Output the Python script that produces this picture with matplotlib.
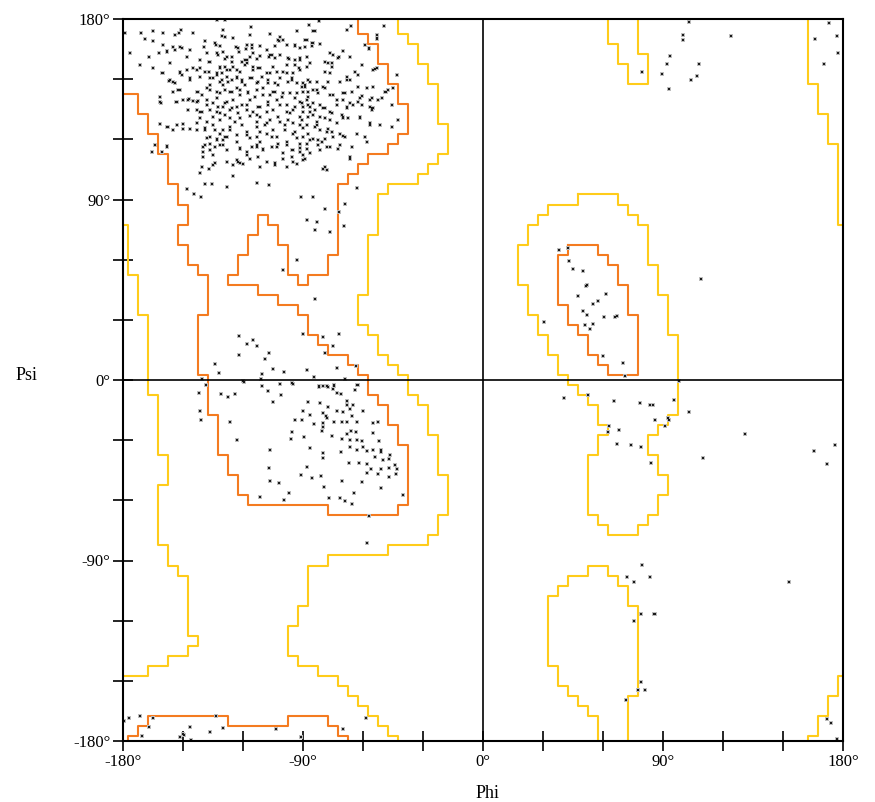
import numpy as np
import matplotlib.pyplot as plt

# contour outlines (phi, psi) in degrees
orange_main = [
    (-180, 142.5), (-172.5, 142.5), (-172.5, 132.5), (-167.5, 132.5), (-167.5, 122.5),
    (-162.5, 122.5), (-162.5, 112.5), (-157.5, 112.5), (-157.5, 97.5), (-152.5, 97.5),
    (-152.5, 87.5), (-147.5, 87.5), (-147.5, 77.5), (-152.5, 77.5), (-152.5, 67.5),
    (-147.5, 67.5), (-147.5, 57.5), (-142.5, 57.5), (-142.5, 52.5), (-137.5, 52.5),
    (-137.5, 32.5), (-142.5, 32.5), (-142.5, 2.5), (-137.5, 2.5), (-137.5, -17.5),
    (-132.5, -17.5), (-132.5, -37.5), (-127.5, -37.5), (-127.5, -47.5), (-122.5, -47.5),
    (-122.5, -57.5), (-117.5, -57.5), (-117.5, -62.5), (-77.5, -62.5), (-77.5, -67.5),
    (-42.5, -67.5), (-42.5, -62.5), (-37.5, -62.5), (-37.5, -32.5), (-42.5, -32.5),
    (-42.5, -22.5), (-47.5, -22.5), (-47.5, -12.5), (-52.5, -12.5), (-52.5, -7.5),
    (-57.5, -7.5), (-57.5, 2.5), (-62.5, 2.5), (-62.5, 7.5), (-67.5, 7.5), (-67.5, 12.5),
    (-77.5, 12.5), (-77.5, 17.5), (-82.5, 17.5), (-82.5, 22.5), (-87.5, 22.5),
    (-87.5, 32.5), (-92.5, 32.5), (-92.5, 37.5), (-102.5, 37.5), (-102.5, 42.5),
    (-112.5, 42.5), (-112.5, 47.5), (-127.5, 47.5), (-127.5, 52.5), (-122.5, 52.5),
    (-122.5, 62.5), (-117.5, 62.5), (-117.5, 72.5), (-112.5, 72.5), (-112.5, 82.5),
    (-107.5, 82.5), (-107.5, 77.5), (-102.5, 77.5), (-102.5, 67.5), (-97.5, 67.5),
    (-97.5, 52.5), (-92.5, 52.5), (-92.5, 47.5), (-87.5, 47.5), (-87.5, 52.5),
    (-77.5, 52.5), (-77.5, 62.5), (-72.5, 62.5), (-72.5, 97.5), (-67.5, 97.5),
    (-67.5, 102.5), (-62.5, 102.5), (-62.5, 107.5), (-57.5, 107.5), (-57.5, 112.5),
    (-47.5, 112.5), (-47.5, 117.5), (-42.5, 117.5), (-42.5, 122.5), (-37.5, 122.5),
    (-37.5, 137.5), (-42.5, 137.5), (-42.5, 147.5), (-47.5, 147.5), (-47.5, 157.5),
    (-52.5, 157.5), (-52.5, 167.5), (-57.5, 167.5), (-57.5, 172.5), (-62.5, 172.5),
    (-62.5, 180)]
orange_bottom = [
    (-177.5, -180), (-177.5, -177.5), (-172.5, -177.5), (-172.5, -172.5), (-167.5, -172.5),
    (-167.5, -167.5), (-127.5, -167.5), (-127.5, -172.5), (-97.5, -172.5), (-97.5, -167.5),
    (-77.5, -167.5), (-77.5, -172.5), (-72.5, -172.5), (-72.5, -177.5), (-67.5, -177.5),
    (-67.5, -180)]
orange_left_handed = [
    (42.5, 67.5), (57.5, 67.5), (57.5, 62.5), (62.5, 62.5), (62.5, 57.5), (67.5, 57.5),
    (67.5, 47.5), (72.5, 47.5), (72.5, 32.5), (77.5, 32.5), (77.5, 2.5), (62.5, 2.5),
    (62.5, 7.5), (57.5, 7.5), (57.5, 12.5), (52.5, 12.5), (52.5, 22.5), (47.5, 22.5),
    (47.5, 27.5), (42.5, 27.5), (42.5, 37.5), (37.5, 37.5), (37.5, 62.5), (42.5, 62.5),
    (42.5, 67.5)]

yellow_left = [
    (-180, 77.5), (-177.5, 77.5), (-177.5, 52.5), (-172.5, 52.5), (-172.5, 32.5),
    (-167.5, 32.5), (-167.5, -7.5), (-162.5, -7.5), (-162.5, -37.5), (-157.5, -37.5),
    (-157.5, -52.5), (-162.5, -52.5), (-162.5, -82.5), (-157.5, -82.5), (-157.5, -92.5),
    (-152.5, -92.5), (-152.5, -97.5), (-147.5, -97.5), (-147.5, -127.5), (-142.5, -127.5),
    (-142.5, -132.5), (-147.5, -132.5), (-147.5, -137.5), (-157.5, -137.5),
    (-157.5, -142.5), (-167.5, -142.5), (-167.5, -147.5), (-180, -147.5)]
yellow_right = [
    (-42.5, 180), (-42.5, 172.5), (-37.5, 172.5), (-37.5, 167.5), (-32.5, 167.5),
    (-32.5, 157.5), (-27.5, 157.5), (-27.5, 147.5), (-22.5, 147.5), (-22.5, 127.5),
    (-17.5, 127.5), (-17.5, 112.5), (-22.5, 112.5), (-22.5, 107.5), (-27.5, 107.5),
    (-27.5, 102.5), (-32.5, 102.5), (-32.5, 97.5), (-47.5, 97.5), (-47.5, 92.5),
    (-52.5, 92.5), (-52.5, 72.5), (-57.5, 72.5), (-57.5, 42.5), (-62.5, 42.5),
    (-62.5, 27.5), (-57.5, 27.5), (-57.5, 22.5), (-52.5, 22.5), (-52.5, 12.5),
    (-47.5, 12.5), (-47.5, 7.5), (-42.5, 7.5), (-42.5, 2.5), (-37.5, 2.5), (-37.5, -7.5),
    (-32.5, -7.5), (-32.5, -12.5), (-27.5, -12.5), (-27.5, -27.5), (-22.5, -27.5),
    (-22.5, -47.5), (-17.5, -47.5), (-17.5, -67.5), (-22.5, -67.5), (-22.5, -77.5),
    (-27.5, -77.5), (-27.5, -82.5), (-47.5, -82.5), (-47.5, -87.5), (-77.5, -87.5),
    (-77.5, -92.5), (-87.5, -92.5), (-87.5, -112.5), (-92.5, -112.5), (-92.5, -122.5),
    (-97.5, -122.5), (-97.5, -137.5), (-92.5, -137.5), (-92.5, -142.5), (-82.5, -142.5),
    (-82.5, -147.5), (-72.5, -147.5), (-72.5, -152.5), (-67.5, -152.5), (-67.5, -157.5),
    (-62.5, -157.5), (-62.5, -162.5), (-57.5, -162.5), (-57.5, -167.5), (-52.5, -167.5),
    (-52.5, -172.5), (-47.5, -172.5), (-47.5, -177.5), (-42.5, -177.5), (-42.5, -180)]
yellow_top_right = [
    (162.5, 180), (162.5, 147.5), (167.5, 147.5), (167.5, 132.5), (172.5, 132.5),
    (172.5, 117.5), (177.5, 117.5), (177.5, 77.5), (180, 77.5)]
yellow_bottom_right = [
    (162.5, -180), (162.5, -177.5), (167.5, -177.5), (167.5, -167.5), (172.5, -167.5),
    (172.5, -157.5), (177.5, -157.5), (177.5, -147.5), (180, -147.5)]
yellow_top_mid = [
    (62.5, 180), (62.5, 167.5), (67.5, 167.5), (67.5, 157.5), (72.5, 157.5), (72.5, 147.5),
    (82.5, 147.5), (82.5, 162.5), (77.5, 162.5), (77.5, 180)]
yellow_bottom_mid = [
    (57.5, -180), (57.5, -167.5), (52.5, -167.5), (52.5, -162.5), (47.5, -162.5),
    (47.5, -157.5), (42.5, -157.5), (42.5, -152.5), (37.5, -152.5), (37.5, -142.5),
    (32.5, -142.5), (32.5, -107.5), (37.5, -107.5), (37.5, -102.5), (42.5, -102.5),
    (42.5, -97.5), (52.5, -97.5), (52.5, -92.5), (62.5, -92.5), (62.5, -97.5),
    (67.5, -97.5), (67.5, -102.5), (72.5, -102.5), (72.5, -112.5), (77.5, -112.5),
    (77.5, -157.5), (72.5, -157.5), (72.5, -180)]
yellow_left_handed = [
    (47.5, 92.5), (67.5, 92.5), (67.5, 87.5), (72.5, 87.5), (72.5, 82.5), (77.5, 82.5),
    (77.5, 77.5), (82.5, 77.5), (82.5, 57.5), (87.5, 57.5), (87.5, 42.5), (92.5, 42.5),
    (92.5, 22.5), (97.5, 22.5), (97.5, -17.5), (92.5, -17.5), (92.5, -22.5), (87.5, -22.5),
    (87.5, -27.5), (82.5, -27.5), (82.5, -37.5), (87.5, -37.5), (87.5, -47.5),
    (92.5, -47.5), (92.5, -57.5), (87.5, -57.5), (87.5, -67.5), (82.5, -67.5),
    (82.5, -72.5), (77.5, -72.5), (77.5, -77.5), (62.5, -77.5), (62.5, -72.5),
    (57.5, -72.5), (57.5, -67.5), (52.5, -67.5), (52.5, -37.5), (57.5, -37.5),
    (57.5, -27.5), (62.5, -27.5), (62.5, -22.5), (57.5, -22.5), (57.5, -12.5),
    (52.5, -12.5), (52.5, -7.5), (47.5, -7.5), (47.5, -2.5), (42.5, -2.5), (42.5, 2.5),
    (37.5, 2.5), (37.5, 12.5), (32.5, 12.5), (32.5, 22.5), (27.5, 22.5), (27.5, 32.5),
    (22.5, 32.5), (22.5, 47.5), (17.5, 47.5), (17.5, 67.5), (22.5, 67.5), (22.5, 77.5),
    (27.5, 77.5), (27.5, 82.5), (32.5, 82.5), (32.5, 87.5), (47.5, 87.5), (47.5, 92.5)]

# residues (phi, psi)
beta_pts = [
    (-179, 173), (-133, 179.5), (-129, 179.5),
    (-165, 174), (-151, 174.5), (-130, 174.5), (-116, 176), (-87, 177), (-85, 174), (-82, 179),
    (-66, 176.5), (-49.5, 176.5), (-171, 173), (-160, 173), (-154, 172), (-152, 173), (-145, 173),
    (-129, 171), (-116.5, 172), (-106.5, 172.5), (-101.5, 171), (-68, 174.5), (-53, 172),
    (-59, 167), (-57, 165), (-53, 170),
    (-169, 170), (-165, 169), (-160, 167), (-155, 166), (-151.5, 166), (-139, 169), (-139.5, 166),
    (-133.5, 167), (-123.5, 166), (-118.5, 165), (-115.5, 167), (-102, 169), (-100, 169.5),
    (-94, 167), (-89, 166), (-85.5, 168), (-81.5, 167.5), (-176.5, 163), (-162, 163),
    (-158, 163.5), (-133, 163), (-130, 163.5), (-122, 163.5), (-115, 163), (-76.5, 163),
    (-72, 161), (-167, 161), (-148, 161), (-141.5, 159.5), (-137, 158.5), (-129, 160),
    (-125.5, 161), (-120.5, 158.5), (-118, 159.5), (-113, 160), (-107, 161), (-105.5, 162),
    (-101.5, 162), (-97, 160), (-94, 159.5), (-86.5, 158), (-75.5, 158), (-60.5, 157),
    (-171.5, 157), (-165, 155.5), (-156.5, 158), (-143, 154.5), (-137, 153.5), (-131.5, 156),
    (-128, 154.5), (-125, 156), (-121.5, 153.5), (-119, 157), (-115, 154.5), (-111.5, 155.5),
    (-106.5, 153), (-100, 153.5), (-95, 153), (-92, 155.5), (-79, 153.5), (-76.5, 153),
    (-64, 153.5), (-54, 155), (-160.5, 153), (-151.5, 153),
    (-157, 149), (-155, 148.5), (-150.5, 152), (-146.5, 149.5), (-141.5, 151), (-136.5, 150.5),
    (-133, 153), (-130.5, 149.5), (-127.5, 148.5), (-123, 151), (-120.5, 149.5),
    (-116.5, 150.5), (-112.5, 148.5), (-107.5, 148), (-102.5, 147), (-97.5, 148.5),
    (-95.5, 150.5), (-89, 146), (-86.5, 148.5), (-80, 146), (-77.5, 148.5), (-68, 149.5),
    (-62.5, 146), (-55, 146), (-43, 152), (-45, 145.5), (-48.5, 143.5), (-152.5, 144.5),
    (-161.5, 141), (-142.5, 143.5), (-136.5, 144.5), (-131.5, 143), (-126.5, 143.5),
    (-121.5, 144.5), (-117.5, 143), (-113, 144.5), (-110, 142), (-105, 143.5), (-100, 143),
    (-93, 143), (-87.5, 143.5), (-83, 144.5), (-76.5, 142), (-70, 143), (-65.5, 143.5),
    (-60.5, 141.5),
    (-161, 138), (-153.5, 138.5), (-147, 140), (-143, 138.5), (-138, 139.5), (-133, 140.5),
    (-129, 138), (-125, 139.5), (-120.5, 137), (-116.5, 139.5), (-112.5, 136), (-107.5, 138.5),
    (-103, 139.5), (-98, 137), (-95, 134.5), (-90, 136), (-85, 138), (-80, 135.5), (-73, 137),
    (-68, 135.5), (-62.5, 138.5), (-56.5, 139.5), (-55.5, 135.5), (-50.5, 140.5),
    (-42.5, 129.5), (-147.5, 134.5), (-141.5, 133.5), (-136.5, 134.5), (-131.5, 133),
    (-126.5, 134.5), (-122.5, 133), (-118, 134.5), (-113, 132), (-108, 133.5), (-102.5, 131),
    (-96.5, 133), (-91.5, 131), (-86.5, 133.5), (-81.5, 131), (-75.5, 133), (-70, 131),
    (-61.5, 130.5),
    (-161.5, 127.5), (-157.5, 126), (-153, 127), (-150, 125), (-143, 128), (-139, 125.5),
    (-135, 127), (-130, 124.5), (-126.5, 126), (-120.5, 127), (-118, 123.5), (-113, 126),
    (-108, 128), (-105, 124.5), (-99, 127), (-94, 123.5), (-90, 125.5), (-83, 127),
    (-78, 123.5), (-73, 128), (-70, 121.5), (-56.5, 127), (-51.5, 127), (-45.5, 126),
    (-138, 120.5), (-133, 119.5), (-128, 121), (-123, 118.5), (-116.5, 120.5), (-111.5, 118.5),
    (-105.5, 121), (-98, 118.5), (-93, 120.5), (-86.5, 119.5), (-80.5, 118.5), (-71.5, 117),
    (-58, 118.5),
    (-164, 117), (-165.5, 113.5), (-160.5, 113.5), (-158, 116.5), (-140, 116), (-136.5, 114.5),
    (-130, 117), (-121.5, 115.5), (-118, 112), (-113, 116), (-110, 114.5), (-103, 116),
    (-100, 113), (-95, 114.5), (-91.5, 115.5), (-86.5, 113), (-81.5, 114.5), (-76.5, 116),
    (-66.5, 111), (-122.5, 108.5), (-121.5, 108), (-134, 108), (-141.5, 103), (-137, 105),
    (-125, 101.5), (-113, 98), (-107, 97), (-104, 108), (-95, 108.5), (-90, 109.5), (-80, 105),
    (-78, 104.5), (-139, 97.5), (-135.5, 97.5), (-128, 96), (-91, 91), (-85, 91), (-63, 95.5),
    (-69, 88), (-148, 95), (-144.5, 92.5), (-141, 91)]
beta_core_pts = [
    (-154, 172.1), (-144.8, 172.9), (-130.7, 171.3), (-125.2, 170.4), (-116.5, 172.1),
    (-106.5, 172.6), (-102.3, 169.6), (-93.2, 173.8), (-88.2, 169.6), (-159.8, 167.1),
    (-139, 168.8), (-134, 167.9), (-131.5, 166.3), (-122.3, 165.4), (-118.2, 167.1),
    (-115.7, 165.4), (-111.5, 166.3), (-108.2, 164.6), (-104, 166.3), (-98.2, 167.1),
    (-94, 166.3), (-91.5, 165.4), (-158.2, 163.8), (-154, 164.6), (-150.7, 165.4),
    (-146.5, 164.6), (-138.2, 162.9), (-132.3, 162.1), (-128.2, 161.3), (-125.7, 158.8),
    (-120.7, 158.8), (-119, 159.6), (-116.5, 161.3), (-111.5, 161.6), (-106.5, 162.1),
    (-104, 160.4), (-97.3, 160.4), (-91.5, 160.4), (-88.2, 161.3), (-156.5, 157.9),
    (-144.8, 155.4), (-141.5, 155.4), (-136.5, 158.8), (-131.5, 155.4), (-129, 156.3),
    (-130.7, 152.9), (-126.5, 154.6), (-123.2, 154.6), (-117.8, 157.9), (-114.8, 156.3),
    (-112.3, 155.4), (-108.2, 152.9), (-104.8, 156.3), (-103.2, 153.8), (-98.2, 157.1),
    (-94, 157.1), (-91.5, 154.6), (-88.2, 156.3), (-159.8, 152.9), (-151.5, 153.8),
    (-148.2, 154.6), (-139, 153.8), (-156.5, 149.6), (-154, 147.9), (-146.5, 150.4),
    (-141.5, 151.3), (-134.8, 150.4), (-133.2, 152.1), (-128.2, 151.3), (-125.7, 149.6),
    (-123.2, 150.4), (-120.7, 148.8), (-119, 147.1), (-115.7, 150.4), (-113.2, 147.9),
    (-110.7, 151.3), (-107.3, 149.6), (-104, 147.9), (-101.5, 150.4), (-98.2, 152.9),
    (-95.7, 149.6), (-93.2, 147.9), (-89, 147.1), (-136.5, 147.1), (-131.5, 148.8),
    (-129.8, 147.1), (-154.8, 143.8), (-151.5, 144.6), (-143.2, 143.8), (-140.7, 142.1),
    (-138.2, 145.4), (-133.2, 143.8), (-129, 144.6), (-125.7, 143.8), (-123.2, 145.4),
    (-121.5, 142.1), (-117.3, 143.8), (-114, 141.3), (-109.8, 145.4), (-106.5, 142.1),
    (-104, 143.8), (-100.7, 141.3), (-96.5, 142.9), (-94, 140.4), (-89.8, 143.8),
    (-87.3, 141.3), (-161.5, 138.8), (-153.2, 138.8), (-149.8, 139.6), (-147.3, 139.6),
    (-144.8, 139.3), (-142.3, 139.3), (-138.2, 137.1), (-134.8, 137.9), (-132.3, 136.3),
    (-129.8, 136.3), (-128.2, 138.8), (-125.7, 135.4), (-123.2, 136.3), (-118.2, 137.1),
    (-114.8, 133.8), (-111.5, 136.3), (-107.3, 137.1), (-104.8, 134.6), (-101.5, 137.1),
    (-98.2, 133.8), (-94, 136.3), (-90.7, 137.9), (-87.3, 137.1), (-147.3, 134.6),
    (-143.2, 134.6), (-140.7, 133.8), (-136.5, 134.6), (-133.2, 133.8), (-141.5, 130.4),
    (-138.2, 128.8), (-134.8, 130.9), (-131.5, 129.6), (-129, 132.1), (-126.5, 130.4),
    (-124, 128.8), (-121.5, 130.4), (-116.5, 131.6), (-113.2, 128.8), (-111.5, 131.3),
    (-109, 127.1), (-106.5, 129.6), (-101.5, 128.8), (-97.3, 129.6), (-94.8, 127.9),
    (-90.7, 129.6), (-88.2, 127.1), (-158.2, 126.3), (-153.2, 127.1), (-149.8, 127.6),
    (-146.5, 125.4), (-154.8, 124.6), (-143.2, 124.6), (-139, 124.6), (-134, 124.6),
    (-131.5, 122.9), (-129, 121.3), (-126.5, 124.6), (-123.2, 122.1), (-118.2, 122.1),
    (-113.2, 121.3), (-111.5, 123.8), (-108.2, 122.9), (-103.2, 121.3), (-99, 124.6),
    (-94.8, 122.9), (-89.8, 121.3), (-136.5, 121.3), (-133.2, 120.4), (-129.8, 119.6),
    (-139, 117.1), (-136.5, 117.9), (-134, 116.3), (-131.5, 117.1), (-128.2, 114.6),
    (-121.5, 115.4), (-118.2, 113.8), (-115.7, 116.3), (-113.2, 117.1), (-109.8, 115.4),
    (-105.7, 116.3), (-102.3, 117.9), (-98.2, 117.1), (-95.7, 114.6), (-91.5, 117.9),
    (-88.2, 115.4), (-139.8, 113.8), (-158.2, 116.3), (-139.8, 111.3), (-134.8, 112.1),
    (-128.2, 108.8), (-123.2, 109.6), (-119.8, 107.9), (-116.5, 110.4), (-112.3, 111.3),
    (-108.2, 108.8), (-104, 107.1), (-99.8, 110.4), (-95.7, 111.3), (-93.2, 107.9),
    (-89.8, 112.1), (-140.7, 106.3), (-134.8, 107.1), (-124.8, 107.1), (-111.5, 106.3),
    (-98.2, 106.3),
    (-84, 173.8), (-89, 169.6), (-84.8, 167.9), (-85.7, 166.6), (-81.5, 167.6), (-59, 167.1),
    (-56.8, 165.4), (-53.2, 172.1), (-52.8, 170.4), (-76.5, 162.9), (-74.8, 162.1),
    (-69.8, 163.8), (-66.5, 161.3), (-72.3, 160.4), (-79, 158.8), (-77.3, 157.9),
    (-75.7, 156.3), (-86.5, 157.9), (-91.5, 159.6), (-60.7, 157.1), (-53.2, 155.4),
    (-54.8, 154.6), (-64, 153.8), (-62.3, 152.1), (-68.2, 151.3), (-66.5, 149.6),
    (-71.5, 148.8), (-43.2, 152.1), (-87.3, 149.6), (-89.8, 147.9), (-90.7, 146.3),
    (-83.2, 148.8), (-84.8, 144.6), (-82.3, 142.9), (-79, 145.4), (-69, 142.9), (-65.7, 143.8),
    (-74.8, 142.1), (-73.2, 139.6), (-58.2, 145.4), (-61.5, 140.4), (-55.7, 140.4),
    (-52.3, 139.6), (-49, 143.8), (-47.3, 144.6), (-44.8, 145.4), (-69.8, 139.6),
    (-66.5, 137.9), (-64.8, 137.1), (-68.2, 136.3), (-60.7, 137.1), (-56.5, 136.3),
    (-55.7, 134.6), (-54.8, 135.4), (-45.7, 137.1), (-91.5, 138.8), (-88.2, 139.6),
    (-86.5, 136.3), (-84, 134.6), (-81.5, 137.1), (-79, 135.4), (-76.5, 133.8), (-89.8, 133.8),
    (-84.8, 132.1), (-87.3, 131.3), (-83.2, 128.8), (-79, 130.4), (-76.5, 129.6),
    (-70.7, 132.1), (-69.8, 130.4), (-67.3, 130.4), (-61.5, 131.3), (-56.5, 127.9),
    (-51.5, 127.1), (-45.7, 126.3), (-91.5, 127.1), (-88.2, 127.1), (-84, 126.3),
    (-81.5, 124.6), (-77.3, 125.4), (-75.7, 123.8), (-87.3, 122.9), (-89.8, 121.3),
    (-84.8, 120.4), (-82.3, 119.6), (-79, 120.4), (-74.8, 121.3), (-71.5, 122.9), (-69, 121.3),
    (-63.2, 122.9), (-59, 121.3), (-88.2, 117.9), (-82.3, 117.1), (-78.2, 116.3),
    (-72.3, 115.4), (-65.7, 116.3), (-89, 110.4), (-79, 106.3), (-66.5, 110.4), (-91.5, 113.8)]
bridge_pts = [
    (-79, 85.5), (-72, 84), (-88, 80), (-83, 79), (-84, 75), (-76.5, 74), (-69.5, 77),
    (-93, 60), (-100, 55), (-84, 40.5), (-90, 23), (-80, 21.5), (-72, 23), (-75, 17),
    (-79, 13.5), (-73, 6), (-63.5, 7), (-69, 0.5), (-63, -2.5), (-122, 22), (-118, 18),
    (-115, 20), (-113, 17), (-122, 12.5), (-107, 13.5), (-109, 10.5), (-134, 8), (-132, 3.5),
    (-105, 5.5), (-99.5, 4), (-110.5, 3), (-88, 5), (-84.5, 1.5), (-140.5, 0.5), (-119.5, -1),
    (-111, 0.5), (-101.5, -2), (-95.5, -1.5), (-82, -3.5), (-78, -3), (-74.5, -2.5)]
alpha_pts = [
    (-138.5, -2.5), (-142, -6.5), (-131, -7), (-127.5, -8.5), (-124, -7), (-141.5, -15.5),
    (-141, -20), (-126.5, -21), (-123, -30), (-120, -0.5), (-110.5, -3), (-107.5, -5.5),
    (-101.5, -2), (-95, -2), (-101, -7.5), (-105, -11), (-87.5, -11), (-81.5, -11.5),
    (-77.5, -13.5), (-82, -3), (-80, -3), (-77.5, -3.5), (-74.5, -3), (-75, -4.5), (-73, -6.5),
    (-71, -7), (-64, -5), (-62.5, -2.5), (-68, -10.5), (-68, -12.5), (-65, -12.5), (-90, -15.5),
    (-86.5, -17.5), (-80, -16.5), (-78.5, -18), (-78, -19), (-73, -15.5), (-70, -16),
    (-66.5, -14.5), (-65.5, -18), (-60, -15.5), (-94, -20), (-90.5, -20), (-84.5, -22),
    (-80, -21.5), (-74.5, -21), (-70.5, -21), (-68, -21), (-63, -21), (-55, -21.5),
    (-52.5, -21), (-80, -23.5), (-80.5, -25.5), (-66, -25.5), (-63.5, -26), (-68, -27),
    (-55, -26.5), (-95.5, -26), (-96, -29.5), (-89.5, -28.5), (-75.5, -28), (-70.5, -29.5),
    (-66.5, -30), (-63, -30), (-60.5, -30.5), (-52, -30.5), (-66.5, -33.5), (-63, -35),
    (-60, -33.5), (-58, -35.5), (-55, -35), (-51, -35), (-51, -36), (-86.5, -34), (-80, -36.5),
    (-71, -36), (-106.5, -35), (-80, -39), (-54, -38.5), (-46.5, -37.5), (-67, -41.5),
    (-62, -41.5), (-58, -42), (-50, -40), (-47, -39.5), (-51, -44.5), (-47, -44), (-43, -44.5),
    (-44, -42.5), (-56, -44.5), (-58, -46.5), (-52.5, -47), (-47, -48.5), (-43.5, -47),
    (-88, -43.5), (-107, -44), (-91, -47.5), (-85.5, -49), (-81, -48), (-70.5, -50.5),
    (-60.5, -51), (-106.5, -50.5), (-102, -51.5), (-79.5, -53.5), (-51, -54), (-64.5, -56.5),
    (-40, -57.5), (-97, -56.5), (-111.5, -58.5), (-99.5, -60), (-77, -59), (-71.5, -59),
    (-69, -60.5), (-65.5, -62), (-57, -68), (-58, -81.5)]
bottom_left_pts = [
    (-179.5, -170), (-177, -168.5), (-171.5, -167.5), (-165, -168.5), (-167, -173),
    (-170.5, -177.5), (-150, -176.5), (-149.5, -177), (-151.5, -178), (-146, -179.5),
    (-146.5, -173), (-136.5, -175.5), (-133.5, -167.5), (-130, -173.5), (-103.5, -174),
    (-91, -178), (-70, -174), (-58.5, -168.5)]
right_pts = [
    (103, 178.5), (100, 172), (100, 169.5), (124, 171.5), (93.5, 161.5), (92, 157.5),
    (79.5, 153.5), (89.5, 152.5), (108, 157.5), (107, 151.5), (104, 149.5), (93, 145),
    (173, 178), (166, 170), (177, 171.5), (177.5, 163), (170.5, 157.5),
    (38, 65), (42.5, 66), (43, 59.5), (45, 55.5), (50, 54.5), (51.5, 47), (52, 47.5),
    (47.5, 42), (57.5, 39.5), (61.5, 43), (55, 38), (50, 34.5), (52, 32.5), (60.5, 31.5),
    (66, 31.5), (67, 32), (51, 27.5), (55, 28), (53.5, 25.5), (30.5, 29), (60, 12), (70, 8.5),
    (109, 50.5), (71, 2), (98, -0.5),
    (40.5, -9), (52.5, -7.5), (65.5, -10.5), (78.5, -11.5), (83.5, -12.5), (85, -12.5),
    (95.5, -10), (103, -16), (86, -20), (92.5, -19), (93, -20), (91, -23), (63, -23),
    (62.5, -26), (68, -25), (67, -32), (74, -32.5), (79, -33.5), (84, -41.5), (110, -39),
    (131, -27), (165.5, -35.5), (176, -32.5), (172, -42), (79.5, -92),
    (72, -98), (75.5, -100.5), (83.5, -98), (153, -100.5), (79, -116.5), (75.5, -120),
    (85.5, -116.5), (86, -116.5), (79, -150.5), (77.5, -154.5), (81, -154.5), (71.5, -159.5),
    (172, -169), (174, -171), (177, -179)]

tick_pos = np.arange(-180, 181, 30)
tick_text = {-180: '-180°', -90: '-90°', 0: '0°', 90: '90°', 180: '180°'}

orange = '#f47b20'
yellow = '#ffcc1a'

fig = plt.figure(figsize=(8.75, 8.02), dpi=100)
ax = fig.add_axes([123 / 875, 61 / 802, 720 / 875, 722 / 802])
ax.set_xlim(-180, 180)
ax.set_ylim(-180, 180)

for line in [yellow_left, yellow_right, yellow_top_right, yellow_bottom_right,
             yellow_top_mid, yellow_bottom_mid, yellow_left_handed]:
    xy = np.array(line)
    ax.plot(xy[:, 0], xy[:, 1], color=yellow, lw=1.5, zorder=2)
for line in [orange_main, orange_bottom, orange_left_handed]:
    xy = np.array(line)
    ax.plot(xy[:, 0], xy[:, 1], color=orange, lw=1.5, zorder=2)

pts = np.array(beta_pts + beta_core_pts + bridge_pts + alpha_pts
               + bottom_left_pts + right_pts)
# soft grey halo under each dark dot, like the anti-aliased markers in the reference
ax.scatter(pts[:, 0], pts[:, 1], s=9, marker='s', c='#bdbdbd', linewidths=0, zorder=3)
ax.scatter(pts[:, 0], pts[:, 1], s=3.5, marker='s', c='#1a1a1a', linewidths=0, zorder=3)

ax.axhline(0, color='black', lw=1.2, zorder=4)
ax.axvline(0, color='black', lw=1.2, zorder=4)
for sp in ax.spines.values():
    sp.set_linewidth(1.5)
    sp.set_zorder(5)

labels = [tick_text.get(int(t), '') for t in tick_pos]
ax.set_xticks(tick_pos)
ax.set_xticklabels(labels)
ax.set_yticks(tick_pos)
ax.set_yticklabels(labels)
ax.tick_params(direction='inout', length=14, width=1.2, pad=2, labelsize=12)
for lab in ax.get_xticklabels() + ax.get_yticklabels():
    lab.set_family('Liberation Serif')

fig.text(487 / 875, 1 - 793 / 802, 'Phi', ha='center', va='center',
         family='Liberation Serif', fontsize=13)
fig.text(26 / 875, 1 - 375 / 802, 'Psi', ha='center', va='center',
         family='Liberation Serif', fontsize=13)

fig.savefig('out.png', dpi=100)
